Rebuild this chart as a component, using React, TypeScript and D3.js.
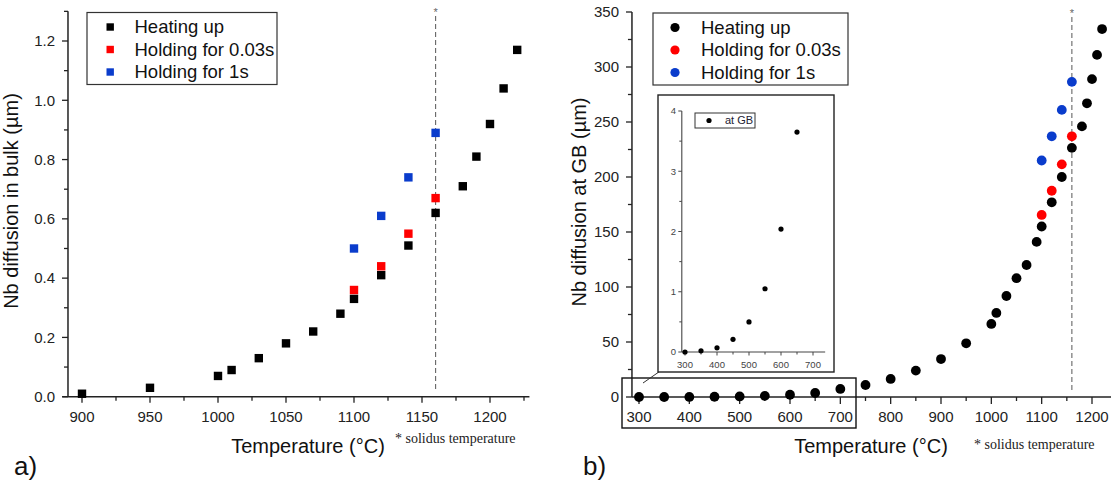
import React from 'react';
import * as d3 from 'd3';

// panel a) Nb diffusion in bulk
const bulkTemps = [900, 950, 1000, 1010, 1030, 1050, 1070, 1090, 1100, 1120, 1140, 1160, 1180, 1190, 1200, 1210, 1220];
const bulkHeating = [0.01, 0.03, 0.07, 0.09, 0.13, 0.18, 0.22, 0.28, 0.33, 0.41, 0.51, 0.62, 0.71, 0.81, 0.92, 1.04, 1.17];
const holdTemps = [1100, 1120, 1140, 1160];
const bulkHold003 = [0.36, 0.44, 0.55, 0.67];
const bulkHold1 = [0.5, 0.61, 0.74, 0.89];

// panel b) Nb diffusion at GB
const gbTemps = [300, 350, 400, 450, 500, 550, 600, 650, 700, 750, 800, 850, 900, 950, 1000, 1010, 1030, 1050, 1070, 1090, 1100, 1120, 1140, 1160, 1180, 1190, 1200, 1210, 1220];
const gbHeating = [0, 0.02, 0.07, 0.21, 0.5, 1.05, 2.04, 3.65, 7.3, 10.9, 16.4, 24, 34.5, 48.8, 66.4, 76.4, 91.8, 108, 120, 141, 155, 177, 200, 226.5, 246, 267, 289, 311, 334.5];
const gbHold003 = [165.5, 187.5, 211.5, 237];
const gbHold1 = [215, 237, 261, 286.5];

const bulkXTicks = [900, 950, 1000, 1050, 1100, 1150, 1200];
const bulkYTicks = [0, 0.2, 0.4, 0.6, 0.8, 1.0, 1.2];
const gbXTicks = [300, 400, 500, 600, 700, 800, 900, 1000, 1100, 1200];
const gbYTicks = [0, 50, 100, 150, 200, 250, 300, 350];
const insetXTicks = [300, 400, 500, 600, 700];
const insetYTicks = [0, 1, 2, 3, 4];

const legendLabels = ['Heating up', 'Holding for 0.03s', 'Holding for 1s'];
const seriesColors = ['#000000', '#ff0000', '#0a3ccc'];
const solidusTemp = 1160;

const FONT = 'Liberation Sans, Arial, sans-serif';
const SERIF = 'Liberation Serif, Times New Roman, serif';
const AX = '#222';

const range = (a: number, b: number, s: number) => d3.range(a, b + s / 2, s);

// scales
const xB = d3.scaleLinear().domain([900, 1200]).range([82, 490]);
const yB = d3.scaleLinear().domain([0, 1.2]).range([396.7, 41]);
const xG = d3.scaleLinear().domain([300, 1200]).range([639, 1092]);
const yG = d3.scaleLinear().domain([0, 350]).range([397, 12]);
const xI = d3.scaleLinear().domain([300, 700]).range([685, 813]);
const yI = d3.scaleLinear().domain([0, 4]).range([352, 111]);

const Legend = ({ x, y, w, shape }: { x: number; y: number; w: number; shape: 'square' | 'circle' }) => (
  <g>
    <rect x={x} y={y} width={w} height={72} fill="#fff" stroke="#333" strokeWidth={1.2} />
    {legendLabels.map((l, i) => {
      const cy = y + 14.5 + i * 22.5;
      return (
        <g key={l}>
          {shape === 'square'
            ? <rect x={x + 19.5} y={cy - 3.7} width={7.4} height={7.4} fill={seriesColors[i]} />
            : <circle cx={x + 22} cy={cy} r={4.6} fill={seriesColors[i]} />}
          <text x={x + (shape === 'square' ? 47.5 : 48)} y={cy} dy="0.35em" fontSize={18.5} fontFamily={FONT} fill="#111">{l}</text>
        </g>
      );
    })}
  </g>
);

const App: React.FC = () => {
  const bulkSeries = [
    { t: bulkTemps, v: bulkHeating },
    { t: holdTemps, v: bulkHold003 },
    { t: holdTemps, v: bulkHold1 },
  ];
  const gbSeries = [
    { t: gbTemps, v: gbHeating },
    { t: holdTemps, v: gbHold003 },
    { t: holdTemps, v: gbHold1 },
  ];
  const insetIdx = gbTemps.map((t, i) => i).filter(i => gbTemps[i] <= 650);

  const sq = 8.4;

  return (
    <div style={{ position: 'fixed', left: 0, top: 0 }}>
      <svg width={1111} height={490} style={{ display: 'block', background: '#fff' }}>
        {/* ---------- panel a ---------- */}
        <g>
          {/* solidus line */}
          <line x1={xB(solidusTemp)} x2={xB(solidusTemp)} y1={16} y2={392} stroke="#666" strokeWidth={1.1} strokeDasharray="5,3" />
          <text x={xB(solidusTemp)} y={16} textAnchor="middle" fontSize={11} fontFamily={FONT} fill="#666">*</text>

          {/* axes */}
          <line x1={xB(885.5)} x2={xB(1229)} y1={yB(0)} y2={yB(0)} stroke={AX} strokeWidth={1.5} />
          <line x1={xB(889.7)} x2={xB(889.7)} y1={yB(0)} y2={yB(1.3)} stroke={AX} strokeWidth={1.5} />
          {range(900, 1225, 25).map(t => (
            <line key={'bx' + t} x1={xB(t)} x2={xB(t)} y1={yB(0)} y2={yB(0) + (t % 50 === 0 ? 6 : 4)} stroke={AX} strokeWidth={1.3} />
          ))}
          {range(0, 1.3, 0.1).map((v, i) => (
            <line key={'by' + i} x1={xB(889.7)} x2={xB(889.7) - (i % 2 === 0 ? 6 : 4)} y1={yB(v)} y2={yB(v)} stroke={AX} strokeWidth={1.3} />
          ))}
          {bulkXTicks.map(t => (
            <text key={'bxl' + t} x={xB(t)} y={417} dy="0.35em" textAnchor="middle" fontSize={15} fontFamily={FONT} fill="#222">{t}</text>
          ))}
          {bulkYTicks.map(v => (
            <text key={'byl' + v} x={55} y={yB(v)} dy="0.35em" textAnchor="end" fontSize={15} fontFamily={FONT} fill="#222">{v.toFixed(1)}</text>
          ))}

          {/* points */}
          {bulkSeries.map((s, si) => s.t.map((t, i) => (
            <rect key={`b${si}-${i}`} x={xB(t) - sq / 2} y={yB(s.v[i]) - sq / 2} width={sq} height={sq} fill={seriesColors[si]} />
          )))}

          <Legend x={87} y={12.5} w={190} shape="square" />

          <text transform="translate(18,201) rotate(-90)" textAnchor="middle" fontSize={20} fontFamily={FONT} fill="#111">Nb diffusion in bulk (µm)</text>
          <text x={308} y={453} textAnchor="middle" fontSize={20} fontFamily={FONT} fill="#111">Temperature (°C)</text>
          <text x={395} y={443} fontSize={14} fontFamily={SERIF} fill="#222">* solidus temperature</text>
          <text x={14} y={475} fontSize={26} fontFamily={FONT} fill="#111">a)</text>
        </g>

        {/* ---------- panel b ---------- */}
        <g>
          <line x1={xG(solidusTemp)} x2={xG(solidusTemp)} y1={17} y2={392} stroke="#666" strokeWidth={1.1} strokeDasharray="5,3" />
          <text x={xG(solidusTemp)} y={17} textAnchor="middle" fontSize={11} fontFamily={FONT} fill="#666">*</text>

          <line x1={xG(286)} x2={xG(1250)} y1={yG(0)} y2={yG(0)} stroke={AX} strokeWidth={1.5} />
          <line x1={xG(286)} x2={xG(286)} y1={yG(0)} y2={yG(350)} stroke={AX} strokeWidth={1.5} />
          {range(300, 1250, 50).map(t => (
            <line key={'gx' + t} x1={xG(t)} x2={xG(t)} y1={yG(0)} y2={yG(0) + (t % 100 === 0 ? 7 : 4)} stroke={AX} strokeWidth={1.3} />
          ))}
          {range(0, 350, 25).map(v => (
            <line key={'gy' + v} x1={xG(286)} x2={xG(286) - (v % 50 === 0 ? 6 : 4)} y1={yG(v)} y2={yG(v)} stroke={AX} strokeWidth={1.3} />
          ))}
          {gbXTicks.map(t => (
            <text key={'gxl' + t} x={xG(t)} y={417} dy="0.35em" textAnchor="middle" fontSize={15} fontFamily={FONT} fill="#222">{t}</text>
          ))}
          {gbYTicks.map(v => (
            <text key={'gyl' + v} x={619} y={yG(v)} dy="0.35em" textAnchor="end" fontSize={15} fontFamily={FONT} fill="#222">{v}</text>
          ))}

          {gbSeries.map((s, si) => s.t.map((t, i) => (
            <circle key={`g${si}-${i}`} cx={xG(t)} cy={yG(s.v[i])} r={4.9} fill={seriesColors[si]} />
          )))}

          {/* zoom box + arrow */}
          <rect x={622} y={378} width={234} height={50} fill="none" stroke="#111" strokeWidth={1.4} />
          <line x1={643} y1={383} x2={666} y2={367} stroke="#333" strokeWidth={1} />
          <path d="M672,363 L661,366 L666,372 Z" fill="#111" />

          <Legend x={653} y={13} w={195} shape="circle" />

          {/* inset */}
          <rect x={658} y={95} width={176} height={277} fill="#fff" stroke="#222" strokeWidth={1.4} />
          <line x1={xI(290)} x2={xI(738)} y1={yI(0)} y2={yI(0)} stroke="#444" strokeWidth={1.1} />
          <line x1={xI(290)} x2={xI(290)} y1={yI(0)} y2={yI(4)} stroke="#444" strokeWidth={1.1} />
          {range(300, 700, 50).map(t => (
            <line key={'ix' + t} x1={xI(t)} x2={xI(t)} y1={yI(0)} y2={yI(0) + (t % 100 === 0 ? 3.5 : 2.5)} stroke="#444" strokeWidth={1} />
          ))}
          {range(0, 4, 0.5).map((v, i) => (
            <line key={'iy' + i} x1={xI(290)} x2={xI(290) - (i % 2 === 0 ? 3.5 : 2.5)} y1={yI(v)} y2={yI(v)} stroke="#444" strokeWidth={1} />
          ))}
          {insetXTicks.map(t => (
            <text key={'ixl' + t} x={xI(t)} y={365} dy="0.35em" textAnchor="middle" fontSize={9.5} fontFamily={FONT} fill="#444">{t}</text>
          ))}
          {insetYTicks.map(v => (
            <text key={'iyl' + v} x={676} y={yI(v)} dy="0.35em" textAnchor="end" fontSize={9.5} fontFamily={FONT} fill="#444">{v}</text>
          ))}
          {insetIdx.map(i => (
            <circle key={'ip' + i} cx={xI(gbTemps[i])} cy={yI(gbHeating[i])} r={2.6} fill="#000" />
          ))}
          <rect x={695} y={113} width={60} height={15} fill="#fff" stroke="#333" strokeWidth={1} />
          <circle cx={709} cy={120.5} r={2.6} fill="#000" />
          <text x={725} y={120.5} dy="0.35em" fontSize={11} fontFamily={FONT} fill="#223">at GB</text>

          <text transform="translate(586,202) rotate(-90)" textAnchor="middle" fontSize={20} fontFamily={FONT} fill="#111">Nb diffusion at GB (µm)</text>
          <text x={871} y={453} textAnchor="middle" fontSize={20} fontFamily={FONT} fill="#111">Temperature (°C)</text>
          <text x={974} y={449} fontSize={14} fontFamily={SERIF} fill="#222">* solidus temperature</text>
          <text x={583} y={475} fontSize={26} fontFamily={FONT} fill="#111">b)</text>
        </g>
      </svg>
    </div>
  );
};

export default App;
